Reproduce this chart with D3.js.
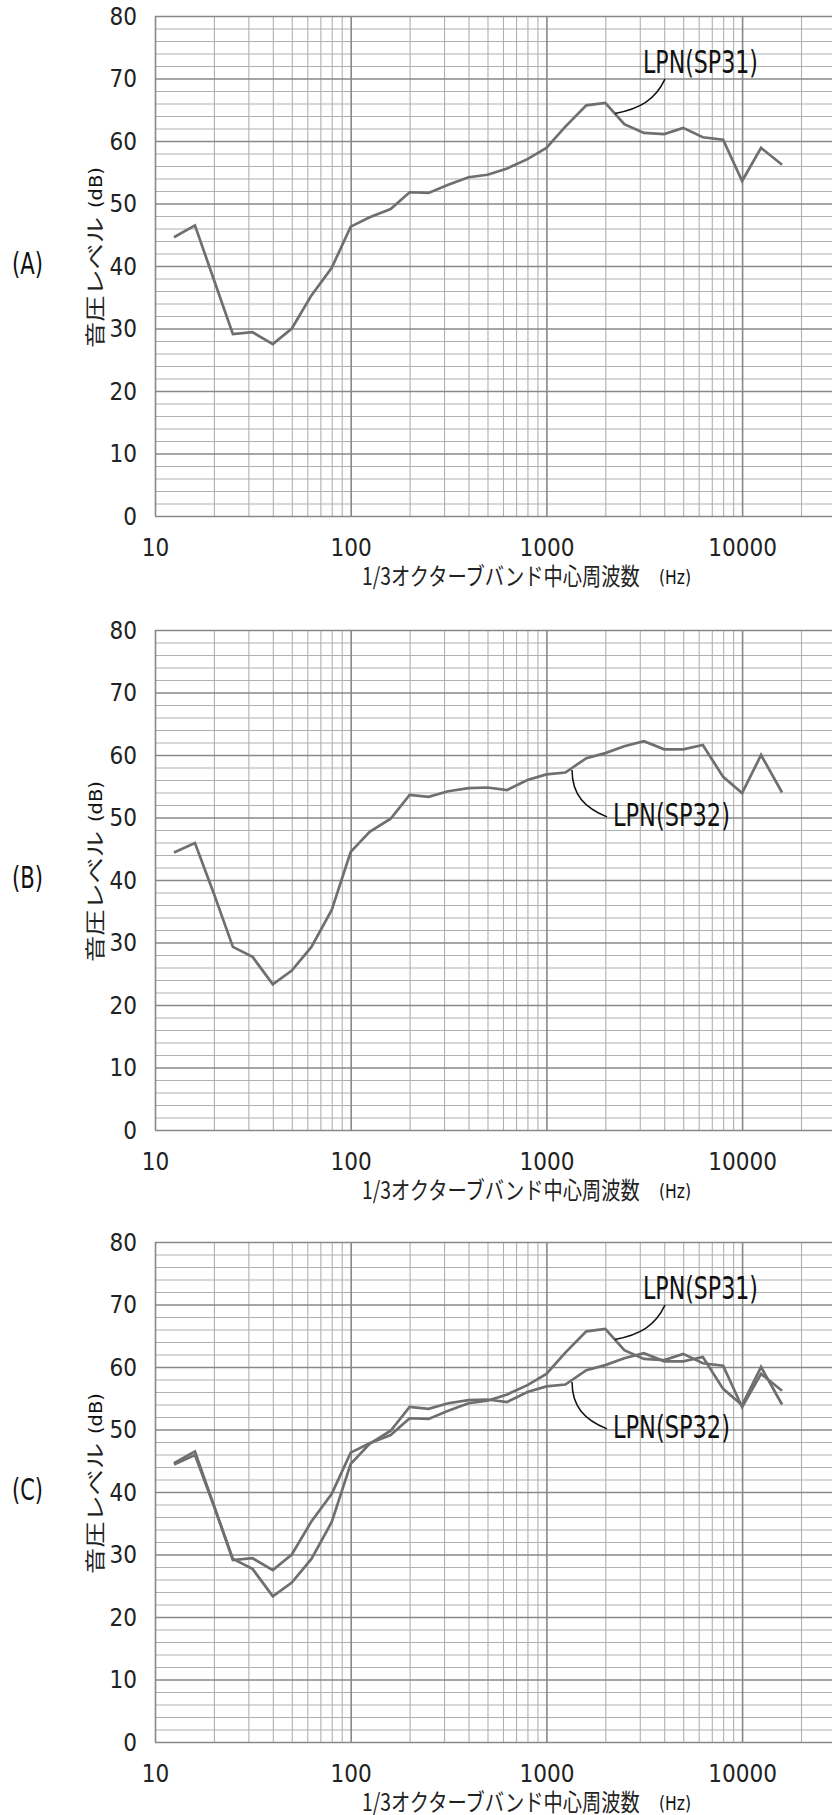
<!DOCTYPE html>
<html>
<head>
<meta charset="utf-8">
<script src="https://cdn.jsdelivr.net/npm/d3@7"></script>
<style>
  body { margin: 0; background: #fff; }
  svg { display: block; }
  .tick text { font-family: "Liberation Sans Narrow", "DejaVu Sans Condensed", "Roboto Condensed", sans-serif; font-size: 24px; fill: #222; }
  .lbl { font-family: "Liberation Sans Narrow", "DejaVu Sans Condensed", sans-serif; fill: #111; }
  .jp { font-family: "Noto Sans CJK JP", sans-serif; fill: #222; }
</style>
</head>
<body>
<svg id="chart" width="832" height="1815"></svg>
<script>
// 1/3 octave band centre frequencies (Hz)
const freqs = [12.5, 16, 20, 25, 31.5, 40, 50, 63, 80, 100, 125, 160, 200, 250, 315, 400,
  500, 630, 800, 1000, 1250, 1600, 2000, 2500, 3150, 4000, 5000, 6300, 8000, 10000, 12500, 16000]

// sound pressure level (dB)
const sp31 = [44.6, 46.5, 37.8, 29.1, 29.4, 27.5, 30.0, 35.3, 39.7, 46.3, 47.8, 49.1, 51.8, 51.7, 53.0, 54.2,
  54.6, 55.6, 57.1, 58.9, 62.3, 65.7, 66.1, 62.7, 61.3, 61.1, 62.1, 60.6, 60.2, 53.6, 58.9, 56.2]
const sp32 = [44.4, 45.9, 37.8, 29.3, 27.7, 23.3, 25.5, 29.3, 35.2, 44.5, 47.7, 49.8, 53.6, 53.3, 54.2, 54.7,
  54.8, 54.4, 56.0, 56.9, 57.2, 59.5, 60.3, 61.4, 62.2, 60.9, 60.9, 61.6, 56.5, 53.9, 60.0, 54.0]

const xTicks = [10, 100, 1000, 10000]
const yTicks = [0, 10, 20, 30, 40, 50, 60, 70, 80]
const panelLabels = ['(A)', '(B)', '(C)']
const panelSeries = [['sp31'], ['sp32'], ['sp31', 'sp32']]
const xTitle = '1/3オクターブバンド中心周波数'
const yTitle = '音圧レベル'

const seriesData = { sp31, sp32 }

// leader notes, in chart units: [Hz, dB]
const notes = {
  sp31: { text: 'LPN(SP31)', at: [3116, 70.9], from: [4036, 69.9], to: [2242, 64.4], bend: [[-10, 21], [25, -5]], len: 115 },
  sp32: { text: 'LPN(SP32)', at: [2188, 48.6], from: [1352, 57.6], to: [2040, 50.1], bend: [[0, 25], [-22, -9]], len: 117 }
}

const svg = d3.select('#chart')
const W = 832
const plotH = 500
const tops = [16, 630, 1242]

const x = d3.scaleLog().domain([10, 100000]).range([155, 155 + 4 * 195.7])

// grid positions
const xMinor = []
for (let e = 1; e <= 4; e++) for (let k = 2; k <= 9; k++) xMinor.push(k * Math.pow(10, e))
const yMinor = d3.range(0, 81, 2).filter(v => v % 10 !== 0)

// squeeze a text to a given width (the reference uses a condensed face)
const fit = (sel, base, len) => {
  const w = sel.node().getComputedTextLength()
  sel.attr('transform', `${base} scale(${len / w},1)`)
  return sel
}

tops.forEach((top, i) => {
  const y = d3.scaleLinear().domain([0, 80]).range([top + plotH, top])
  const g = svg.append('g')
  const left = x(10)

  // minor grid
  g.append('g')
    .attr('transform', `translate(${left},0)`)
    .call(d3.axisLeft(y).tickValues(yMinor).tickSize(-(W - left)).tickFormat(''))
    .call(a => a.select('.domain').remove())
    .selectAll('line').attr('stroke', '#b0b0b0').attr('stroke-width', 1.1)
  g.append('g')
    .attr('transform', `translate(0,${top + plotH})`)
    .call(d3.axisBottom(x).tickValues(xMinor).tickSize(-plotH).tickFormat(''))
    .call(a => a.select('.domain').remove())
    .selectAll('line').attr('stroke', '#b0b0b0').attr('stroke-width', 1.1)

  // major grid + tick labels
  g.append('g')
    .attr('transform', `translate(${left},0)`)
    .call(d3.axisLeft(y).tickValues(yTicks).tickSize(-(W - left)).tickPadding(18).tickFormat(d3.format('d')))
    .call(a => a.select('.domain').remove())
    .call(a => a.selectAll('line').attr('stroke', '#888').attr('stroke-width', 1.6))
    .call(a => a.selectAll('text').attr('dy', '0.35em'))
  g.append('g')
    .attr('transform', `translate(0,${top + plotH})`)
    .call(d3.axisBottom(x).tickValues(xTicks).tickSize(-plotH).tickFormat(d3.format('d')))
    .call(a => a.select('.domain').remove())
    .call(a => a.selectAll('line').attr('stroke', '#888').attr('stroke-width', 1.6))
    .call(a => a.selectAll('text').attr('y', 32).attr('dy', '0.35em'))

  // axis titles
  fit(g.append('text').attr('class', 'jp').attr('font-size', 24).text(xTitle),
    `translate(362,${top + plotH + 69})`, 278)
  fit(g.append('text').attr('class', 'lbl').attr('font-size', 20).text('(Hz)'),
    `translate(659,${top + plotH + 68})`, 32)
  fit(g.append('text').attr('class', 'jp').attr('dominant-baseline', 'central').attr('font-size', 20).text(yTitle),
    `translate(94,${top + 332}) rotate(-90)`, 131)
  fit(g.append('text').attr('class', 'lbl').attr('dominant-baseline', 'central').attr('font-size', 17).text('(dB)'),
    `translate(96,${top + 192}) rotate(-90)`, 41)

  // panel label
  fit(g.append('text').attr('class', 'lbl').attr('dominant-baseline', 'central').attr('font-size', 31).text(panelLabels[i]),
    `translate(12,${top + 247})`, 31)

  // data lines
  const line = d3.line().x((d, j) => x(freqs[j])).y(d => y(d))
  panelSeries[i].forEach(key => {
    g.append('path')
      .attr('d', line(seriesData[key]))
      .attr('fill', 'none')
      .attr('stroke', '#6f6f6f')
      .attr('stroke-width', 2.7)
  })

  // leader notes
  panelSeries[i].forEach(key => {
    const n = notes[key]
    const s = [x(n.from[0]), y(n.from[1])]
    const e = [x(n.to[0]), y(n.to[1])]
    const c1 = [s[0] + n.bend[0][0], s[1] + n.bend[0][1]]
    const c2 = [e[0] + n.bend[1][0], e[1] + n.bend[1][1]]
    g.append('path')
      .attr('d', `M${s}C${c1} ${c2} ${e}`)
      .attr('fill', 'none').attr('stroke', '#111').attr('stroke-width', 1.5)
    fit(g.append('text').attr('class', 'lbl').attr('font-size', 32).text(n.text),
      `translate(${x(n.at[0])},${y(n.at[1])})`, n.len)
  })
})
</script>
</body>
</html>
